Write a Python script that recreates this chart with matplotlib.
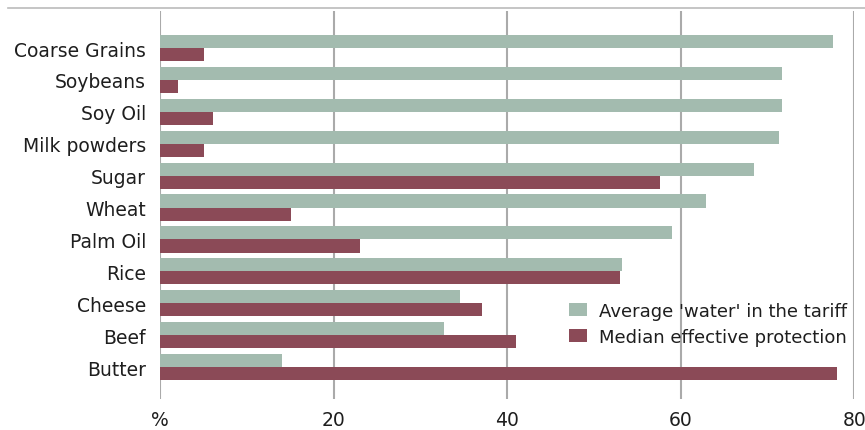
import matplotlib
matplotlib.use("Agg")
import matplotlib.pyplot as plt
from matplotlib.lines import Line2D
import numpy as np

categories = ["Coarse Grains", "Soybeans", "Soy Oil", "Milk powders", "Sugar", "Wheat",
              "Palm Oil", "Rice", "Cheese", "Beef", "Butter"]
water = [77.5, 71.7, 71.7, 71.3, 68.5, 62.9, 59.0, 53.2, 34.6, 32.7, 14.1]
median_protection = [5.1, 2.1, 6.1, 5.1, 57.6, 15.1, 23.0, 53.0, 37.1, 41.0, 78.0]
xticks = [0, 20, 40, 60, 80]
xticklabels = ["%", "20", "40", "60", "80"]
series_names = ["Average 'water' in the tariff", "Median effective protection"]

green = "#A3BBAF"
red = "#8B4A57"

plt.rcParams['font.family'] = ['DejaVu Sans']

W, H = 865, 431
fig = plt.figure(figsize=(W / 100, H / 100), dpi=100)
ax = fig.add_axes([160 / W, 1 - 400 / H, (854.3 - 160) / W, (400 - 12) / H])

y = np.arange(len(categories))
bh = 0.41
ax.barh(y - bh / 2, water, height=bh, color=green, label=series_names[0], zorder=2)
ax.barh(y + bh / 2, median_protection, height=bh, color=red, label=series_names[1], zorder=2)

fs = 13.5
ax.set_xlim(0, 80)
ax.set_ylim(len(categories) - 1 + 1.0, -1.16)
ax.set_yticks(y)
ax.set_yticklabels(categories, fontsize=fs, color="#1E1E1E")
ax.set_xticks(xticks)
ax.set_xticklabels(xticklabels, fontsize=fs, color="#1E1E1E")
ax.tick_params(axis='both', length=0)
ax.tick_params(axis='y', pad=10)
ax.tick_params(axis='x', pad=8)
for s in ax.spines.values():
    s.set_visible(False)
ax.grid(axis='x', color="#AAAAAA", linewidth=1.5, zorder=0)
ax.grid(axis='y', visible=False)

# top border line
fig.add_artist(Line2D([8 / W, 1.0], [1 - 9 / H, 1 - 9 / H], color="#BBBBBB", linewidth=1.2))

lfs = 12.95
leg = ax.legend(loc='upper left', bbox_to_anchor=(569 / W, 1 - 303 / H),
                bbox_transform=fig.transFigure, frameon=False, fontsize=lfs,
                handlelength=1.0, handleheight=0.72, handletextpad=0.66,
                labelspacing=0.42, borderaxespad=0, borderpad=0)
for t in leg.get_texts():
    t.set_color("#1E1E1E")

fig.savefig("out.png", dpi=100)
